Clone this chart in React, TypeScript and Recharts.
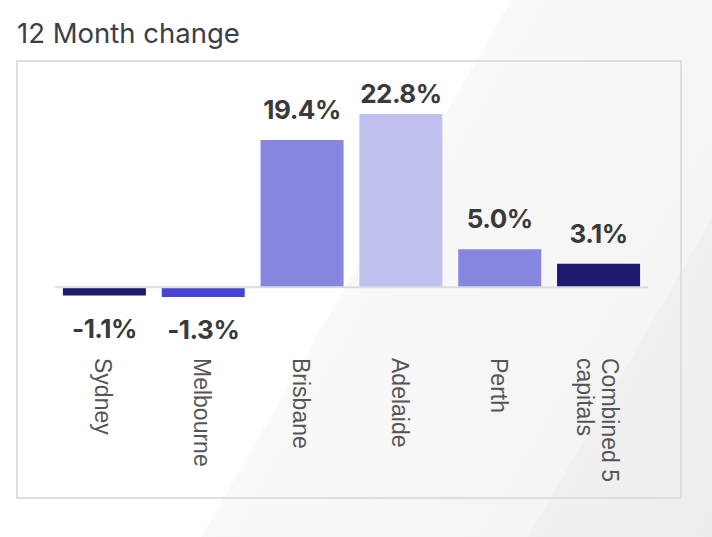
import { BarChart, Bar, XAxis, YAxis, ReferenceLine, Cell, LabelList } from "recharts";

const cities = ["Sydney", "Melbourne", "Brisbane", "Adelaide", "Perth", "Combined 5 capitals"];
const changes = [-1.1, -1.3, 19.4, 22.8, 5.0, 3.1];

const barColors = ["#1c1a6e", "#4845d4", "#8686e1", "#c1c1f0", "#8686e1", "#1c1a6e"];

const data = cities.map((city, i) => ({ city, change: changes[i] }));

// split long category names over a couple of lines
function wrap(label: string, max = 10) {
  const out: string[] = [];
  let cur = "";
  for (const w of label.split(" ")) {
    const next = cur ? cur + " " + w : w;
    if (next.length > max && cur) {
      out.push(cur);
      cur = w;
    } else {
      cur = next;
    }
  }
  if (cur) out.push(cur);
  return out;
}

const CityTick = (props: any) => {
  const { x, y, payload } = props;
  const lines = wrap(String(payload.value));
  const first = 9 - ((lines.length - 1) * 25) / 2;
  return (
    <g transform={`translate(${x},${y + 2})`}>
      <text
        transform="rotate(90)"
        textAnchor="start"
        fill="#555"
        fontFamily="'Liberation Sans', Arial, sans-serif"
        fontSize={23}
      >
        {lines.map((l, i) => (
          <tspan key={i} x={0} y={first + i * 25}>
            {l}
          </tspan>
        ))}
      </text>
    </g>
  );
};

const ValueLabel = (props: any) => {
  const { x, y, width, height, value } = props;
  const top = Math.min(y, y + height);
  const bottom = Math.max(y, y + height);
  const by = value >= 0 ? Math.max(top - 21, 103) : bottom + 42;
  return (
    <text
      x={x + width / 2}
      y={by}
      textAnchor="middle"
      fill="#3a3a3a"
      fontFamily="Inter, sans-serif"
      fontWeight={700}
      fontSize={26}
      letterSpacing={-0.5}
    >
      {Number(value).toFixed(1)}%
    </text>
  );
};

export default function App() {
  return (
    <div
      style={{
        position: "absolute",
        left: 0,
        top: 0,
        width: 712,
        height: 537,
        overflow: "hidden",
        background:
          "linear-gradient(120deg, #ffffff 0%, #ffffff 50%, #f9f9f9 50%, #f4f4f4 82%, #f0f0f0 82%, #ededed 100%)",
      }}
    >
      <div
        style={{
          position: "absolute",
          left: 17,
          top: 15,
          fontFamily: "Inter, sans-serif",
          fontSize: 27.5,
          color: "#3d3d47",
          lineHeight: "36px",
        }}
      >
        12 Month change
      </div>
      <div
        style={{
          position: "absolute",
          left: 16,
          top: 60,
          width: 666,
          height: 439,
          boxSizing: "border-box",
          border: "2px solid #dedee2",
        }}
      />
      <div style={{ position: "absolute", left: 0, top: 0 }}>
        <BarChart
          width={712}
          height={537}
          data={data}
          margin={{ top: 105, right: 64, left: 55, bottom: 159 }}
          barCategoryGap="8%"
        >
          <XAxis
            dataKey="city"
            axisLine={false}
            tickLine={false}
            interval={0}
            height={30}
            tick={<CityTick />}
          />
          <YAxis hide domain={[-8, 24]} />
          <ReferenceLine y={0} stroke="#dcdcdc" strokeWidth={2} />
          <Bar dataKey="change" isAnimationActive={false}>
            {data.map((_, i) => (
              <Cell key={`c-${i}`} fill={barColors[i]} />
            ))}
            <LabelList dataKey="change" content={<ValueLabel />} />
          </Bar>
        </BarChart>
      </div>
    </div>
  );
}
